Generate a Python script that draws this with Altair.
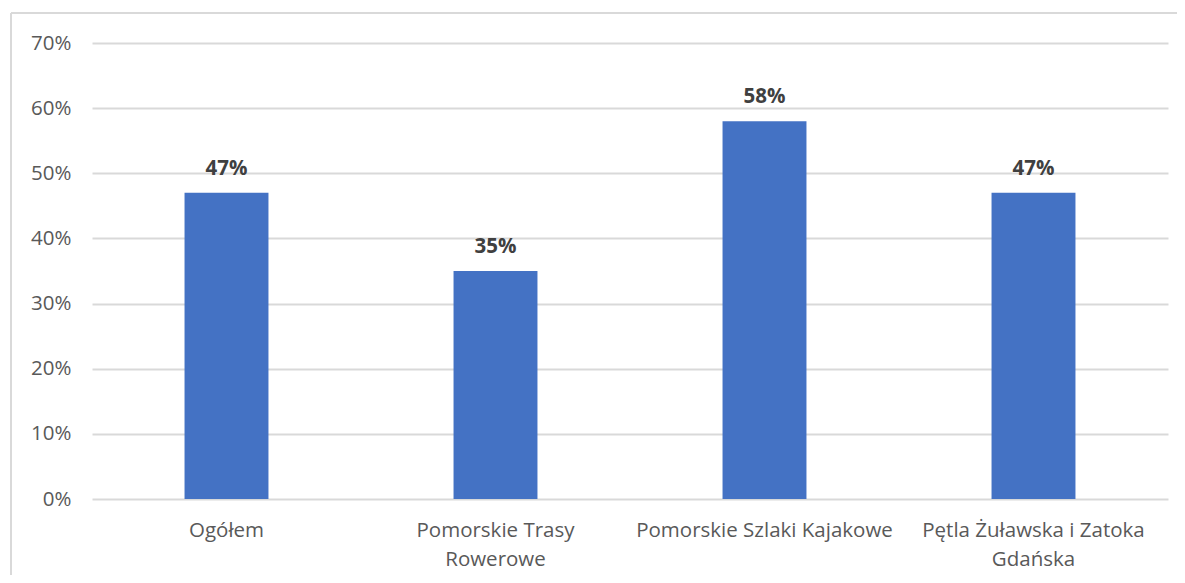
import altair as alt
import pandas as pd

categories = ["Ogółem", "Pomorskie Trasy Rowerowe", "Pomorskie Szlaki Kajakowe", "Pętla Żuławska i Zatoka Gdańska"]
label_lines = [["Ogółem"], ["Pomorskie Trasy", "Rowerowe"], ["Pomorskie Szlaki Kajakowe"], ["Pętla Żuławska i Zatoka", "Gdańska"]]
values = [0.47, 0.35, 0.58, 0.47]
y_ticks = [0, 0.1, 0.2, 0.3, 0.4, 0.5, 0.6, 0.7]

df = pd.DataFrame({"cat": categories, "val": values})

expr_parts = []
for c, lines in zip(categories, label_lines):
    arr = "[" + ",".join("'" + l + "'" for l in lines) + "]"
    expr_parts.append(f"datum.value == '{c}' ? {arr} : ")
label_expr = "".join(expr_parts) + "datum.label"

FONT = "Open Sans"
W, H = 1076, 456

base = alt.Chart(df).encode(
    x=alt.X("cat:N", sort=categories,
            scale=alt.Scale(paddingInner=0.688, paddingOuter=0.344),
            axis=alt.Axis(title=None, labelAngle=0, domain=False, ticks=False, tickSize=0,
                          labelExpr=label_expr, labelFont=FONT, labelFontSize=20.5,
                          labelColor="#595959", labelPadding=21, labelLineHeight=29,
                          labelLimit=400)),
    y=alt.Y("val:Q", scale=alt.Scale(domain=[0, 0.7], nice=False),
            axis=alt.Axis(title=None, format=".0%", values=y_ticks, domain=False, ticks=False,
                          tickSize=0, labelFont=FONT, labelFontSize=20.5, labelColor="#595959",
                          labelPadding=21, gridColor="#d9d9d9", gridWidth=2)),
)

bars = base.mark_bar(color="#4472C4")
text = base.mark_text(font=FONT, fontSize=20.5, fontWeight="bold", color="#404040",
                      baseline="alphabetic", dy=-18).encode(text=alt.Text("val:Q", format=".0%"))

border_top = alt.Chart(df).mark_rule(color="#d9d9d9", strokeWidth=2, clip=False).encode(
    x=alt.value(-81), x2=alt.value(W + 40), y=alt.value(-30))
border_left = alt.Chart(df).mark_rule(color="#d9d9d9", strokeWidth=2, clip=False).encode(
    x=alt.value(-81), y=alt.value(-30), y2=alt.value(H + 120))

chart = alt.layer(border_top, border_left, bars, text).properties(
    width=W, height=H,
    background="white",
    autosize=alt.AutoSizeParams(type="none"),
    padding={"left": 84, "top": 35, "right": 9, "bottom": 76},
).configure_view(stroke=None)

chart.save("out.html", embed_options={"renderer": "svg", "actions": False})
